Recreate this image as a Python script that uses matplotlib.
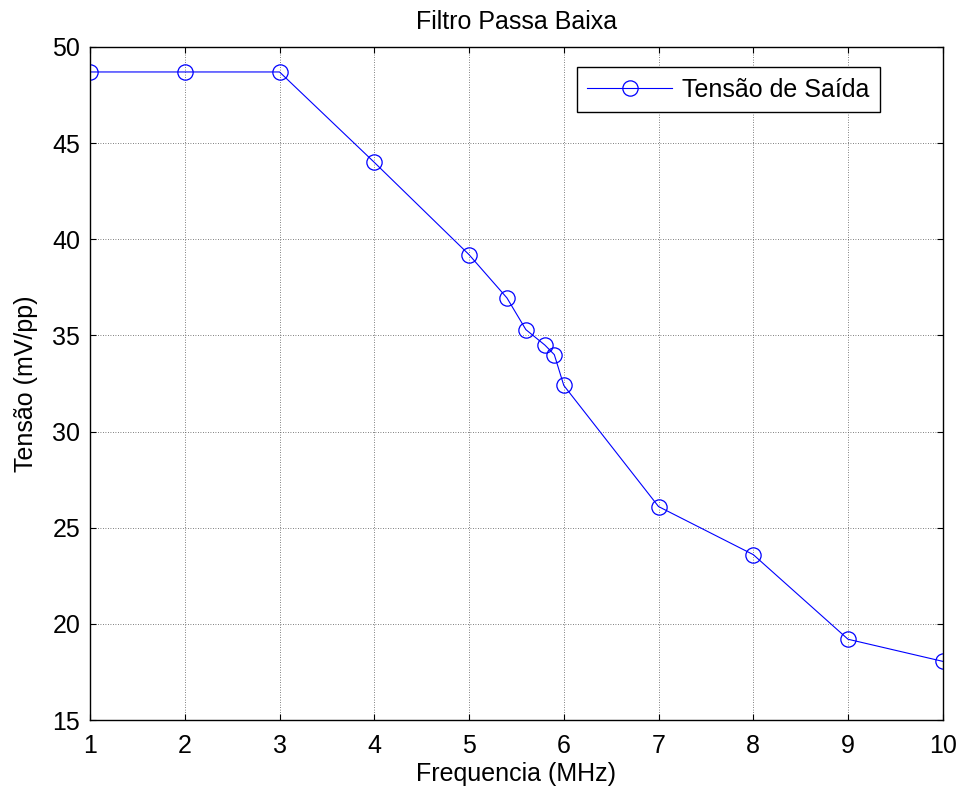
import matplotlib
matplotlib.use("Agg")
import matplotlib.pyplot as plt

freq = [1, 2, 3, 4, 5, 5.4, 5.6, 5.8, 5.9, 6, 7, 8, 9, 10]
tensao = [48.7, 48.7, 48.7, 44.0, 39.2, 36.95, 35.3, 34.5, 34.0, 32.4, 26.1, 23.6, 19.2, 18.05]
xticks = [1, 2, 3, 4, 5, 6, 7, 8, 9, 10]
yticks = [15, 20, 25, 30, 35, 40, 45, 50]

FS = 18
plt.rcParams['font.family'] = ['Liberation Sans', 'DejaVu Sans']
fig = plt.figure(figsize=(9.63, 7.92), dpi=100)
ax = fig.add_axes([0.0935, 0.0909, 0.8855, 0.8498])
ax.plot(freq, tensao, color='#0000ff', lw=0.8, marker='o', ms=11,
        mfc='none', mec='#0000ff', mew=0.9, label='Tensão de Saída')
ax.set_xlim(1, 10)
ax.set_ylim(15, 50)
ax.set_xticks(xticks)
ax.set_yticks(yticks)
ax.tick_params(direction='in', top=True, right=True, labelsize=FS, length=4, width=0.8)
ax.tick_params(axis='x', pad=10)
ax.tick_params(axis='y', pad=7)
ax.grid(True, color='#555555', linestyle=(0, (1, 2)), linewidth=0.6)
for s in ax.spines.values():
    s.set_linewidth(1.0)
ax.set_title('Filtro Passa Baixa', fontsize=FS, pad=13)
ax.set_xlabel('Frequencia (MHz)', fontsize=FS, labelpad=3)
ax.set_ylabel('Tensão (mV/pp)', fontsize=FS, labelpad=10)
leg = ax.legend(loc='upper right', bbox_to_anchor=(0.914, 0.9154), bbox_transform=fig.transFigure,
                fontsize=FS, fancybox=False, framealpha=1, edgecolor='black',
                handlelength=3.4, borderpad=0.42, handletextpad=0.4, borderaxespad=0)
leg.get_frame().set_linewidth(1.0)
fig.savefig('out.png', dpi=100)
